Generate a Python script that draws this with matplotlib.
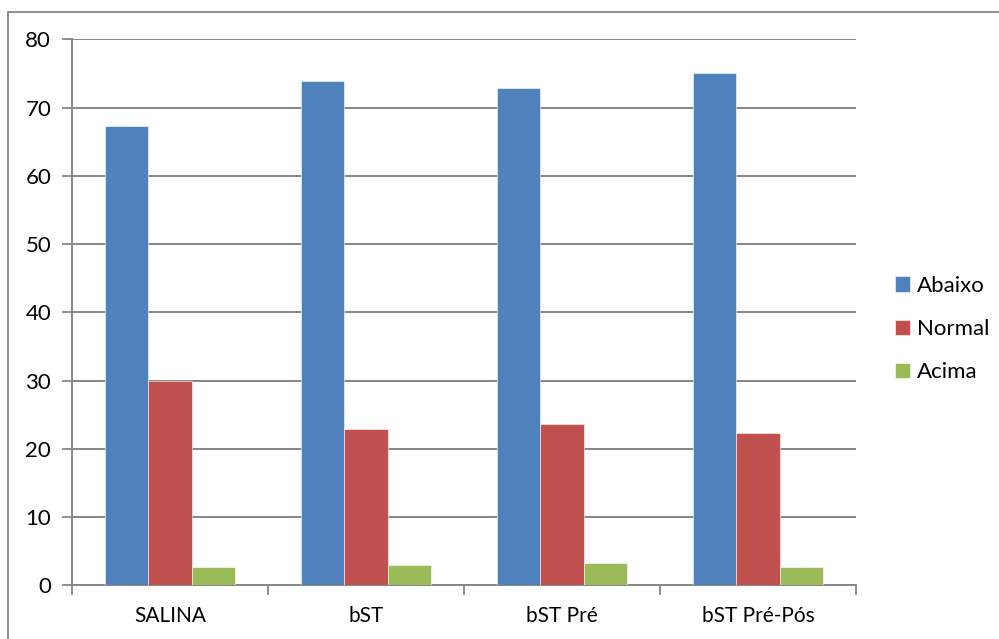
import matplotlib
matplotlib.use("Agg")
import matplotlib.pyplot as plt
import numpy as np
from matplotlib.patches import Rectangle

categories = ["SALINA", "bST", "bST Pré", "bST Pré-Pós"]
abaixo = [67.3, 73.9, 72.8, 75.0]
normal = [29.9, 22.9, 23.7, 22.3]
acima = [2.7, 3.0, 3.3, 2.7]
series_names = ["Abaixo", "Normal", "Acima"]
colors = ["#4F81BD", "#C0504D", "#9BBB59"]
y_ticks = [0, 10, 20, 30, 40, 50, 60, 70, 80]

plt.rcParams["font.family"] = ["Lato", "DejaVu Sans"]
grid_col = "#868686"

W, H = 999, 639
fig = plt.figure(figsize=(W / 100, H / 100), dpi=100)
ax = fig.add_axes([72 / W, 1 - 585.3 / H, (856 - 72) / W, (585.3 - 39.3) / H])

# outer chart frame (only top and left edges fall inside the canvas)
fig.patches.append(Rectangle((8 / W, -0.1), 1.2, 1.1 - 12.5 / H,
                             transform=fig.transFigure, fill=False,
                             edgecolor=grid_col, linewidth=1.3))

x = np.arange(len(categories))
bw = 1 / 4.5
for i, (vals, name, c) in enumerate(zip([abaixo, normal, acima], series_names, colors)):
    ax.bar(x + (i - 1) * bw, vals, width=bw, color=c, label=name,
           edgecolor="#ffffff", linewidth=0.4, zorder=3)

ax.set_xlim(-0.5, len(categories) - 0.5)
ax.set_ylim(0, 80)
ax.set_yticks(y_ticks)
ax.yaxis.grid(True, color=grid_col, linewidth=1.4, zorder=0)
ax.set_axisbelow(True)

ax.set_xticks(np.arange(len(categories) + 1) - 0.5)
ax.set_xticklabels([])
ax.set_xticks(x, minor=True)
ax.set_xticklabels(categories, minor=True)
ax.tick_params(axis="x", which="major", length=7, width=1.3, color=grid_col, direction="out")
ax.tick_params(axis="x", which="minor", length=0, pad=15, labelsize=15)
ax.tick_params(axis="y", length=7, width=1.3, color=grid_col, labelsize=16, pad=8)

for s in ["top", "right"]:
    ax.spines[s].set_visible(False)
for s in ["left", "bottom"]:
    ax.spines[s].set_color(grid_col)
    ax.spines[s].set_linewidth(1.4)

ax.legend(loc="center left", bbox_to_anchor=(886 / W, 1 - 329 / H),
          bbox_transform=fig.transFigure, frameon=False, fontsize=16,
          handlelength=0.68, handleheight=0.68, handletextpad=0.3,
          labelspacing=1.05, borderaxespad=0)

fig.savefig("out.png", dpi=100, facecolor="white")
